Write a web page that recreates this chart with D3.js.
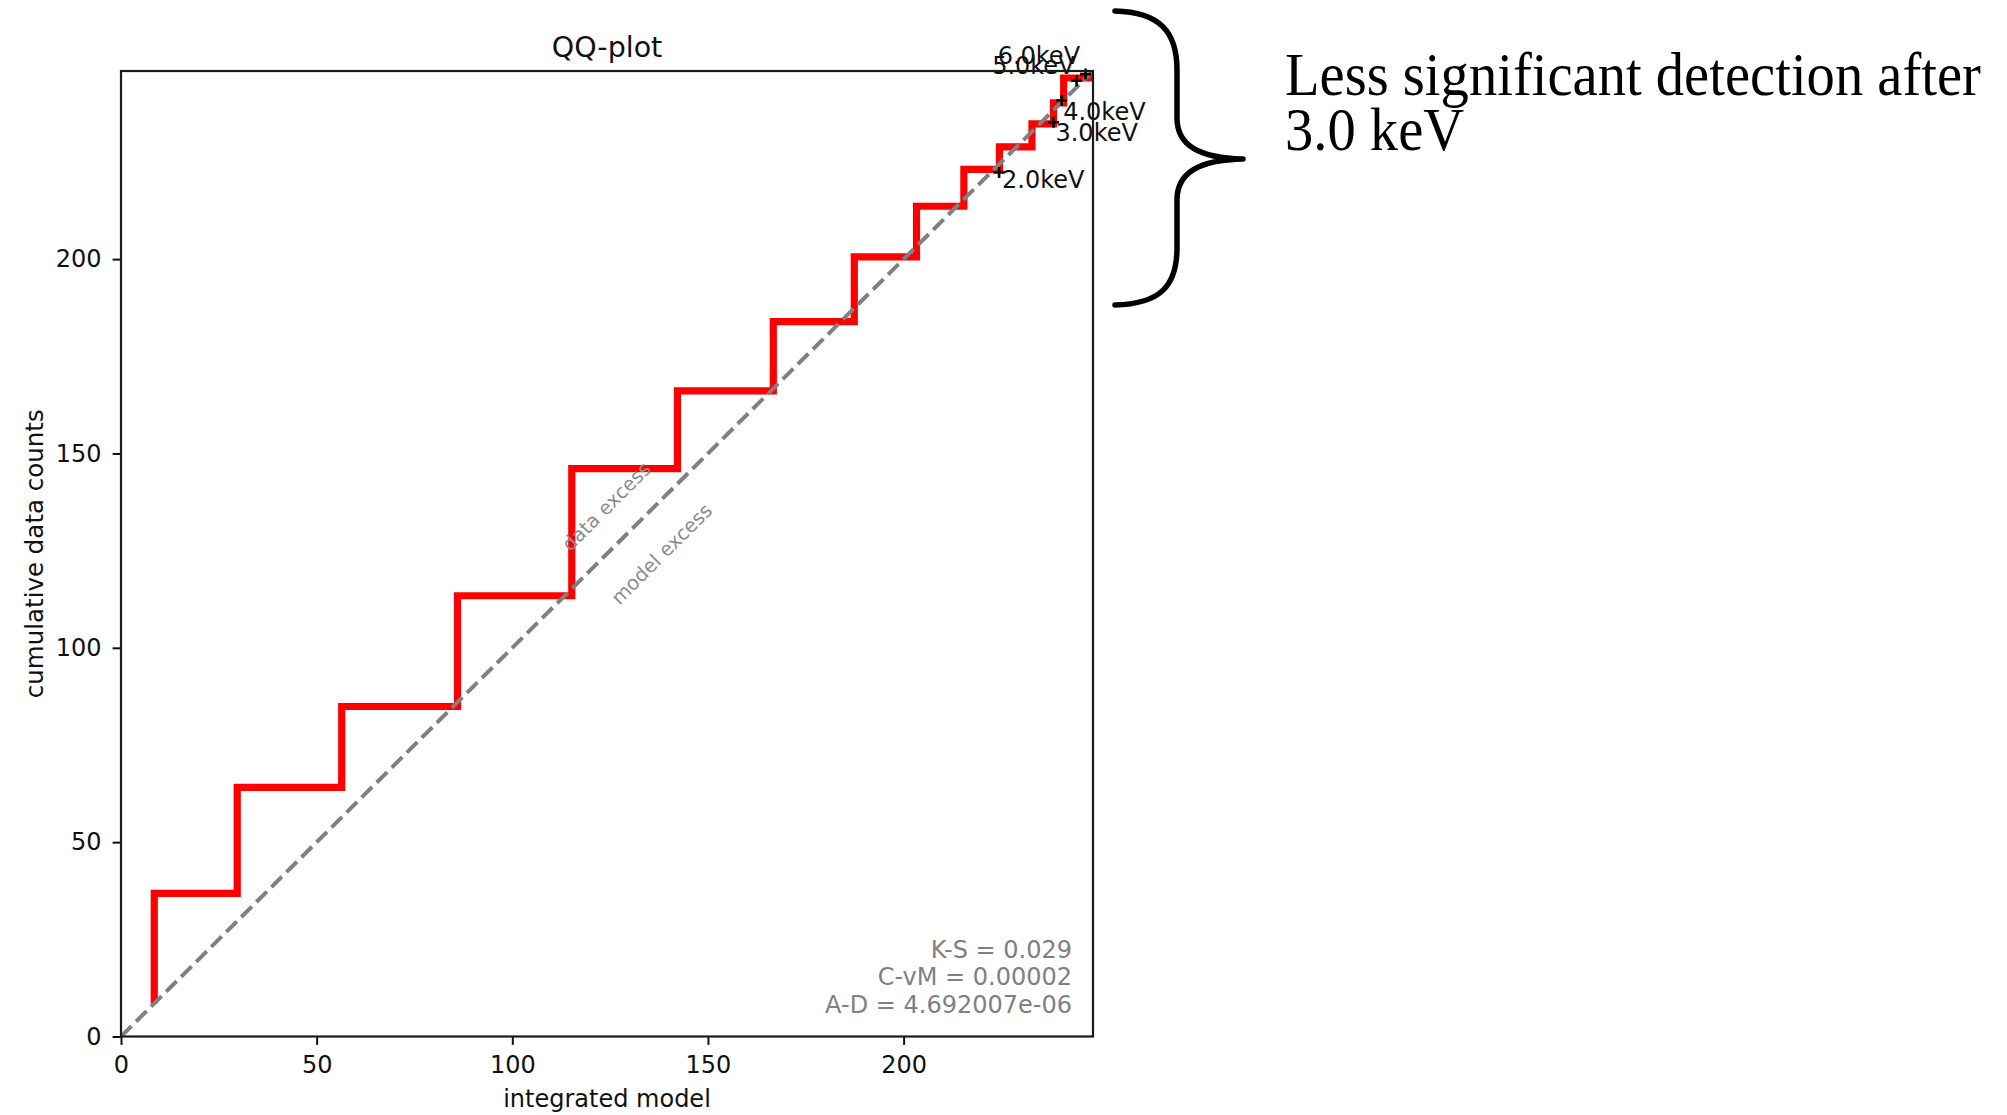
<!DOCTYPE html>
<html>
<head>
<meta charset="utf-8">
<script src="https://cdn.jsdelivr.net/npm/d3@7"></script>
<style>
  html, body { margin: 0; padding: 0; background: #fff; }
  svg { display: block; }
</style>
</head>
<body>
<svg id="chart" width="2007" height="1115"></svg>
<script>
// Staircase: each point is (model value where the next jump happens, count level reached)
const modelSteps = [8.5, 29.7, 56.4, 86.0, 115.2, 142.2, 166.7, 187.4, 203.3, 215.4, 224.5, 232.8, 238.3, 240.9, 248.4];
const countSteps = [8.5, 36.8, 64.1, 84.9, 113.4, 146.1, 166.1, 183.9, 200.6, 213.6, 223.1, 228.9, 234.8, 240.2, 246.6];

// Energy markers along the curve
const energyLabels = ["2.0keV", "3.0keV", "4.0keV", "5.0keV", "6.0keV"];
const energyModel  = [224.4, 238.3, 240.4, 244.2, 246.5];
const energyCounts = [222.3, 235.2, 240.8, 245.9, 247.6];

// Goodness-of-fit statistics
const statLines = ["K-S = 0.029", "C-vM = 0.00002", "A-D = 4.692007e-06"];

const xTicks = [0, 50, 100, 150, 200];
const yTicks = [0, 50, 100, 150, 200];
const axisMax = 248.4;

const noteLines = ["Less significant detection after", "3.0 keV"];

// ---- layout ----
const plot = { left: 121, right: 1093, top: 71, bottom: 1036.5 };
const sans = "DejaVu Sans, Verdana, sans-serif";
const serif = "Liberation Serif, Times New Roman, serif";

const svg = d3.select("#chart");
svg.append("rect").attr("width", 2007).attr("height", 1115).attr("fill", "#fff");

const x = d3.scaleLinear().domain([0, axisMax]).range([plot.left, plot.right]);
const y = d3.scaleLinear().domain([0, axisMax]).range([plot.bottom, plot.top]);

svg.append("defs").append("clipPath").attr("id", "plotClip")
  .append("rect")
  .attr("x", plot.left).attr("y", plot.top)
  .attr("width", plot.right - plot.left).attr("height", plot.bottom - plot.top);

const inner = svg.append("g").attr("clip-path", "url(#plotClip)");

// red QQ staircase (vertical jump first, then flat run)
const steps = modelSteps.map((m, i) => [m, countSteps[i]]);
inner.append("path")
  .datum(steps)
  .attr("d", d3.line().x(d => x(d[0])).y(d => y(d[1])).curve(d3.curveStepBefore))
  .attr("fill", "none")
  .attr("stroke", "#ff0000")
  .attr("stroke-width", 7.2)
  .attr("stroke-linejoin", "miter")
  .attr("stroke-linecap", "butt");

// one-to-one reference line
inner.append("line")
  .attr("x1", x(0)).attr("y1", y(0))
  .attr("x2", x(axisMax)).attr("y2", y(axisMax))
  .attr("stroke", "#808080")
  .attr("stroke-width", 4)
  .attr("stroke-dasharray", "14.8,6.4");

// region hints along the diagonal
const hint = (txt, mx, cy) => {
  svg.append("text")
    .attr("transform", `translate(${x(mx)},${y(cy)}) rotate(-45)`)
    .attr("text-anchor", "middle")
    .attr("dominant-baseline", "central")
    .attr("font-family", sans)
    .attr("font-size", 19.5)
    .attr("fill", "#8c8c8c")
    .text(txt);
};
hint("data excess", 124.1, 136.3);
hint("model excess", 138.2, 124.1);

// energy markers and their labels
const labelPlacement = [
  { dx: 3, dy: 16, anchor: "start" },
  { dx: 2, dy: 19, anchor: "start" },
  { dx: 1.5, dy: 19, anchor: "start" },
  { dx: -2, dy: -7, anchor: "end" },
  { dx: -5.5, dy: -10, anchor: "end" }
];
energyLabels.forEach((lab, i) => {
  const px = x(energyModel[i]), py = y(energyCounts[i]);
  svg.append("path")
    .attr("d", `M${px - 5.5},${py}H${px + 5.5}M${px},${py - 5.5}V${py + 5.5}`)
    .attr("stroke", "#000").attr("stroke-width", 2.6);
  const p = labelPlacement[i];
  svg.append("text")
    .attr("x", px + p.dx).attr("y", py + p.dy)
    .attr("text-anchor", p.anchor)
    .attr("font-family", sans).attr("font-size", 24)
    .attr("fill", "#111")
    .text(lab);
});

// statistics text (bottom right of the axes)
svg.append("g").selectAll("text").data(statLines).join("text")
  .attr("x", 1072)
  .attr("y", (d, i) => 957.5 + i * 27.8)
  .attr("text-anchor", "end")
  .attr("font-family", sans).attr("font-size", 24)
  .attr("fill", "#808080")
  .text(d => d);

// axes
const xAxis = d3.axisBottom(x).tickValues(xTicks).tickSize(8.4).tickPadding(11).tickFormat(d3.format("d"));
const yAxis = d3.axisLeft(y).tickValues(yTicks).tickSize(8.4).tickPadding(11).tickFormat(d3.format("d"));

const gx = svg.append("g").attr("transform", `translate(0,${plot.bottom})`).call(xAxis);
const gy = svg.append("g").attr("transform", `translate(${plot.left},0)`).call(yAxis);
[gx, gy].forEach(g => {
  g.select(".domain").remove();
  g.selectAll(".tick line").attr("stroke", "#111").attr("stroke-width", 2);
  g.selectAll(".tick text").attr("font-family", sans).attr("font-size", 24).attr("fill", "#111");
});

// frame
svg.append("rect")
  .attr("x", plot.left).attr("y", plot.top)
  .attr("width", plot.right - plot.left).attr("height", plot.bottom - plot.top)
  .attr("fill", "none").attr("stroke", "#1a1a1a").attr("stroke-width", 2.2);

// title and axis labels
svg.append("text")
  .attr("x", (plot.left + plot.right) / 2).attr("y", 56.7)
  .attr("text-anchor", "middle")
  .attr("font-family", sans).attr("font-size", 28.5).attr("fill", "#111")
  .text("QQ-plot");

svg.append("text")
  .attr("x", (plot.left + plot.right) / 2).attr("y", 1107)
  .attr("text-anchor", "middle")
  .attr("font-family", sans).attr("font-size", 24).attr("fill", "#111")
  .text("integrated model");

svg.append("text")
  .attr("transform", `translate(43,${(plot.top + plot.bottom) / 2}) rotate(-90)`)
  .attr("text-anchor", "middle")
  .attr("font-family", sans).attr("font-size", 24.5).attr("fill", "#111")
  .text("cumulative data counts");

// curly brace grouping the high-energy steps
const bp = d3.path();
bp.moveTo(1115, 11);
bp.bezierCurveTo(1160, 12, 1177, 32, 1177, 70);
bp.lineTo(1177, 118);
bp.bezierCurveTo(1177, 146, 1200, 158, 1243, 159);
bp.bezierCurveTo(1200, 160, 1177, 172, 1177, 200);
bp.lineTo(1177, 248);
bp.bezierCurveTo(1177, 286, 1160, 304, 1115, 305);
svg.append("path")
  .attr("d", bp.toString())
  .attr("fill", "none")
  .attr("stroke", "#000")
  .attr("stroke-width", 5.5)
  .attr("stroke-linecap", "round")
  .attr("stroke-linejoin", "round");

// annotation next to the brace, set in a slightly condensed serif
const noteLeft = 1285, noteFirstWidth = 696;
const note = svg.append("g");
const noteText = note.selectAll("text").data(noteLines).join("text")
  .attr("x", 0)
  .attr("y", (d, i) => 95 + i * 55)
  .attr("font-family", serif).attr("font-size", 61).attr("fill", "#000")
  .text(d => d);
const natural = noteText.node().getComputedTextLength() || noteFirstWidth;
note.attr("transform", `translate(${noteLeft},0) scale(${noteFirstWidth / natural},1)`);
</script>
</body>
</html>
